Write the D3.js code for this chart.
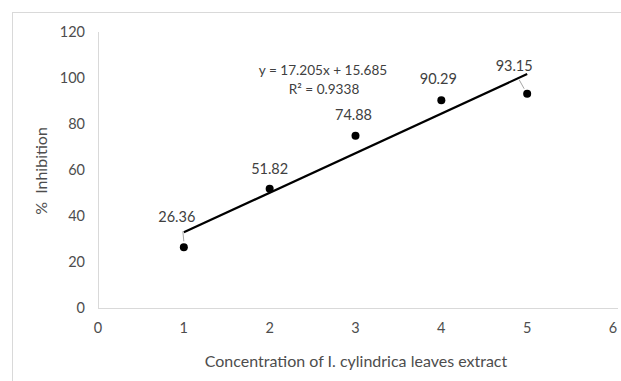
<!DOCTYPE html>
<html>
<head>
<meta charset="utf-8">
<script src="https://cdn.jsdelivr.net/npm/d3@7"></script>
<style>
  body { margin: 0; background: #fff; }
  text { font-family: Lato, "Open Sans", sans-serif; }
</style>
</head>
<body>
<div id="chart"></div>
<script>
// data
const concentrations = [1, 2, 3, 4, 5];
const inhibition = [26.36, 51.82, 74.88, 90.29, 93.15];
const xTicks = [0, 1, 2, 3, 4, 5, 6];
const yTicks = [0, 20, 40, 60, 80, 100, 120];
const slope = 17.205, intercept = 15.685;
const equationText = 'y = 17.205x + 15.685';
const r2Text = 'R² = 0.9338';

const W = 621, H = 381;
const margin = { top: 32, right: 8, bottom: 73, left: 98 };

const svg = d3.select('#chart').append('svg')
  .attr('width', W)
  .attr('height', H);

// outer chart frame (runs off the right and bottom of the picture)
svg.append('rect')
  .attr('x', 12.5).attr('y', 12.5)
  .attr('width', 800).attr('height', 600)
  .attr('fill', 'none')
  .attr('stroke', '#d9d9d9');

const x = d3.scaleLinear().domain([0, 6]).range([margin.left, 613]);
const y = d3.scaleLinear().domain([0, 120]).range([H - margin.bottom, margin.top]);

// axis lines
svg.append('line')
  .attr('x1', x(0)).attr('x2', 618)
  .attr('y1', y(0) + 0.5).attr('y2', y(0) + 0.5)
  .attr('stroke', '#d9d9d9');
svg.append('line')
  .attr('x1', x(0) + 0.5).attr('x2', x(0) + 0.5)
  .attr('y1', y(0)).attr('y2', y(120))
  .attr('stroke', '#d9d9d9');

// tick labels
svg.append('g').selectAll('text')
  .data(xTicks)
  .join('text')
  .attr('x', (d) => x(d))
  .attr('y', y(0) + 25)
  .attr('text-anchor', 'middle')
  .attr('font-size', 14.5)
  .attr('fill', '#4d4d4d')
  .text((d) => d);

svg.append('g').selectAll('text')
  .data(yTicks)
  .join('text')
  .attr('x', x(0) - 13)
  .attr('y', (d) => y(d) + 5)
  .attr('text-anchor', 'end')
  .attr('font-size', 14.5)
  .attr('fill', '#4d4d4d')
  .text((d) => d);

// axis titles
svg.append('text')
  .attr('x', 356)
  .attr('y', 367)
  .attr('text-anchor', 'middle')
  .attr('font-size', 16)
  .attr('fill', '#4d4d4d')
  .text('Concentration of I. cylindrica leaves extract');

svg.append('text')
  .attr('transform', 'translate(47,171) rotate(-90)')
  .attr('text-anchor', 'middle')
  .attr('font-size', 16)
  .attr('fill', '#4d4d4d')
  .attr('xml:space', 'preserve')
  .style('white-space', 'pre')
  .text('%  Inhibition');

// linear trendline
const xExt = d3.extent(concentrations);
svg.append('line')
  .attr('x1', x(xExt[0])).attr('y1', y(slope * xExt[0] + intercept))
  .attr('x2', x(xExt[1])).attr('y2', y(slope * xExt[1] + intercept))
  .attr('stroke', '#000')
  .attr('stroke-width', 2.2);

const points = concentrations.map((c, i) => ({ c: c, v: inhibition[i] }));

// data points
svg.append('g').selectAll('circle')
  .data(points)
  .join('circle')
  .attr('cx', (d) => x(d.c))
  .attr('cy', (d) => y(d.v))
  .attr('r', 4)
  .attr('fill', '#000');

// data labels: label offsets in px relative to the point
const labelDx = [-7, 0, -2, -3, -13];
const labelDy = [-25, -15, -16, -16, -23];
svg.append('g').selectAll('text')
  .data(points)
  .join('text')
  .attr('x', (d, i) => x(d.c) + labelDx[i])
  .attr('y', (d, i) => y(d.v) + labelDy[i])
  .attr('text-anchor', 'middle')
  .attr('font-size', 14.5)
  .attr('fill', '#404040')
  .text((d) => d.v.toFixed(2));

// leader lines for the labels pushed off their points
svg.append('line')
  .attr('x1', x(1) - 1).attr('y1', y(inhibition[0]) - 16)
  .attr('x2', x(1)).attr('y2', y(inhibition[0]) - 6)
  .attr('stroke', '#a6a6a6');
svg.append('line')
  .attr('x1', x(5) - 8).attr('y1', y(inhibition[4]) - 14)
  .attr('x2', x(5) - 3).attr('y2', y(inhibition[4]) - 5)
  .attr('stroke', '#a6a6a6');

// trendline equation
svg.append('text')
  .attr('x', 323).attr('y', 75)
  .attr('text-anchor', 'middle')
  .attr('font-size', 13.6)
  .attr('fill', '#404040')
  .text(equationText);
svg.append('text')
  .attr('x', 324).attr('y', 94)
  .attr('text-anchor', 'middle')
  .attr('font-size', 13.6)
  .attr('fill', '#404040')
  .text(r2Text);
</script>
</body>
</html>
